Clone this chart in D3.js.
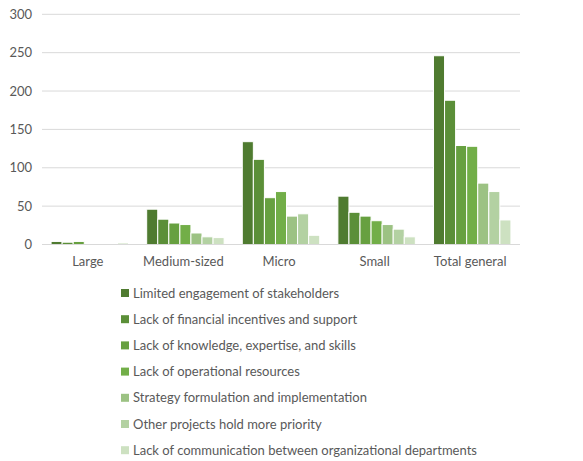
<!DOCTYPE html>
<html lang="en">
<head>
    <meta charset="utf-8">
    <title>Barriers by company size</title>
    <script type="text/javascript" src="https://cdn.jsdelivr.net/npm/d3@7/dist/d3.min.js"></script>
    <style>
      body { margin: 0; background: #fff; }
      text { font-family: Lato, "Open Sans", sans-serif; }
    </style>
</head>
<body>
    <script type="text/javascript">
      var w = 583;
      var h = 461;

      var categories = ["Large", "Medium-sized", "Micro", "Small", "Total general"];
      var seriesNames = [
        "Limited engagement of stakeholders",
        "Lack of financial incentives and support",
        "Lack of knowledge, expertise, and skills",
        "Lack of operational resources",
        "Strategy formulation and implementation",
        "Other projects hold more priority",
        "Lack of communication between organizational departments"
      ];
      var seriesColors = ["#4f7b30", "#5b8f38", "#67a040", "#72ae48", "#9cc283", "#b3d1a2", "#cde1c1"];

      // one array per series, values in category order
      var limitedEngagement = [4, 46, 134, 63, 246];
      var lackFinancial     = [3, 33, 111, 42, 188];
      var lackKnowledge     = [4, 28, 61, 37, 129];
      var lackOperational   = [0, 26, 69, 31, 128];
      var strategyFormul    = [0, 15, 37, 26, 80];
      var otherProjects     = [0, 10, 40, 20, 69];
      var lackCommunication = [2, 9, 12, 10, 32];
      var yTicks = [0, 50, 100, 150, 200, 250, 300];

      var seriesValues = [limitedEngagement, lackFinancial, lackKnowledge, lackOperational,
                          strategyFormul, otherProjects, lackCommunication];

      var svg = d3.select("body")
        .append("svg")
        .attr("width", w)
        .attr("height", h);

      var plotLeft = 42, plotRight = 520, plotTop = 14.3, plotBottom = 244.5;

      var x0 = d3.scaleBand()
        .domain(categories)
        .range([plotLeft, plotRight])
        .paddingInner(0.19)
        .paddingOuter(0.095);

      var x1 = d3.scaleBand()
        .domain(d3.range(seriesNames.length))
        .range([0, x0.bandwidth()])
        .paddingInner(0.0);

      var y = d3.scaleLinear()
        .domain([0, 300])
        .range([plotBottom, plotTop]);

      //// gridlines
      svg.append("g")
        .selectAll("line")
        .data(yTicks)
        .enter()
        .append("line")
        .attr("x1", plotLeft)
        .attr("x2", plotRight)
        .attr("y1", function(d) { return y(d); })
        .attr("y2", function(d) { return y(d); })
        .attr("stroke", "#d9d9d9")
        .attr("stroke-width", 1);

      //// y axis labels
      var yAxis = d3.axisLeft(y).tickValues(yTicks).tickSize(0).tickPadding(0);
      var gy = svg.append("g")
        .attr("transform", "translate(32,0)")
        .call(yAxis);
      gy.select(".domain").remove();
      gy.selectAll("text")
        .attr("fill", "#595959")
        .attr("font-size", "13px")
        .attr("font-family", "Lato, sans-serif");

      //// bars
      var groups = svg.append("g")
        .selectAll("g")
        .data(categories)
        .enter()
        .append("g")
        .attr("transform", function(d) { return "translate(" + x0(d) + ",0)"; });

      groups.selectAll("rect")
        .data(function(d, ci) {
          return seriesValues.map(function(vals, si) { return { s: si, v: vals[ci] }; });
        })
        .enter()
        .append("rect")
        .attr("x", function(d) { return x1(d.s); })
        .attr("y", function(d) { return y(d.v); })
        .attr("width", x1.bandwidth())
        .attr("height", function(d) { return plotBottom - y(d.v); })
        .attr("fill", function(d) { return seriesColors[d.s]; })
        .attr("stroke", "#ffffff")
        .attr("stroke-width", 1);

      //// x axis line
      svg.append("line")
        .attr("x1", plotLeft)
        .attr("x2", plotRight)
        .attr("y1", plotBottom)
        .attr("y2", plotBottom)
        .attr("stroke", "#d9d9d9");

      //// x axis labels
      var xAxis = d3.axisBottom(x0).tickSize(0).tickPadding(0);
      var gx = svg.append("g")
        .attr("transform", "translate(-2," + (plotBottom + 12) + ")")
        .call(xAxis);
      gx.select(".domain").remove();
      gx.selectAll("text")
        .attr("fill", "#595959")
        .attr("font-size", "13px")
        .attr("font-family", "Lato, sans-serif");

      //// legend
      var legend = svg.append("g")
        .selectAll("g")
        .data(seriesNames)
        .enter()
        .append("g")
        .attr("transform", function(d, i) { return "translate(121," + (293 + i * 26.2) + ")"; });

      legend.append("rect")
        .attr("x", 0)
        .attr("y", -4)
        .attr("width", 8)
        .attr("height", 8)
        .attr("fill", function(d, i) { return seriesColors[i]; });

      legend.append("text")
        .attr("x", 12)
        .attr("y", 0)
        .attr("dy", "0.35em")
        .attr("font-size", "13px")
        .attr("fill", "#595959")
        .text(function(d) { return d; });
    </script>
</body>
</html>
